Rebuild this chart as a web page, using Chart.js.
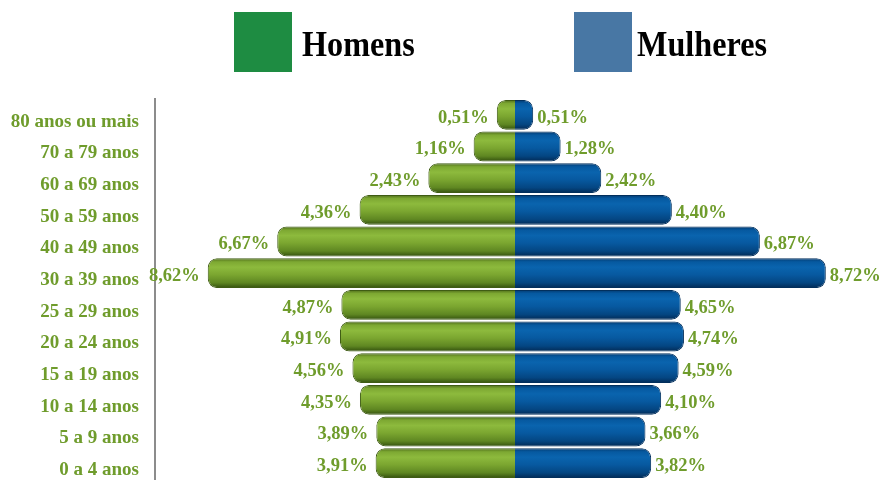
<!DOCTYPE html>
<html lang="pt">
<head>
<meta charset="UTF-8">
<title>Pirâmide etária</title>
<style>
    html, body { margin: 0; padding: 0; background: #fff; }
    #wrap { position: relative; width: 880px; height: 482px; }
    #chart { position: absolute; left: 0; top: 0; }
    .key { position: absolute; top: 12px; width: 58px; height: 60px; }
    .keyText { position: absolute; top: 25px; font: bold 35px "Liberation Serif", "Times New Roman", serif; color: #000;
               transform: scaleX(0.92); transform-origin: left center; white-space: nowrap; }
</style>
</head>
<body>
<div id="wrap">
    <canvas id="chart" width="880" height="482"></canvas>
    <div class="key" style="left:234px;background:#1e8c42;"></div>
    <div class="keyText" style="left:302px;">Homens</div>
    <div class="key" style="left:574px;background:#4877a4;"></div>
    <div class="keyText" style="left:637px;">Mulheres</div>
</div>

<script src="https://cdn.jsdelivr.net/npm/chart.js"></script>
<script>
    const faixas = ['80 anos ou mais', '70 a 79 anos', '60 a 69 anos', '50 a 59 anos', '40 a 49 anos', '30 a 39 anos',
                    '25 a 29 anos', '20 a 24 anos', '15 a 19 anos', '10 a 14 anos', '5 a 9 anos', '0 a 4 anos'];
    const homens   = [0.51, 1.16, 2.43, 4.36, 6.67, 8.62, 4.87, 4.91, 4.56, 4.35, 3.89, 3.91];
    const mulheres = [0.51, 1.28, 2.42, 4.40, 6.87, 8.72, 4.65, 4.74, 4.59, 4.10, 3.66, 3.82];

    const labelGreen = '#6f9c2c';
    const serif = '"Liberation Serif", "Times New Roman", serif';
    const BAR_PCT = 0.94;

    // vertical gradient per bar, so the bars look like cylinders
    function cylinder(stops, solid) {
        return function(ctx) {
            const chart = ctx.chart;
            const y = chart.scales.y;
            if (!chart.chartArea || !y) return solid;
            const c = y.getPixelForValue(ctx.dataIndex);
            const h = (y.height / faixas.length) * BAR_PCT;
            const g = chart.ctx.createLinearGradient(0, c - h / 2, 0, c + h / 2);
            stops.forEach(s => g.addColorStop(s[0], s[1]));
            return g;
        };
    }

    const greenStops = [[0, '#4d6b1a'], [0.12, '#7da832'], [0.3, '#8dba3d'], [0.55, '#7ba630'], [0.82, '#5f8722'], [1, '#33500e']];
    const blueStops  = [[0, '#033a70'], [0.12, '#0659a0'], [0.3, '#0a64ae'], [0.55, '#0759a0'], [0.82, '#044682'], [1, '#022a55']];

    function fmt(v) {
        return Math.abs(v).toFixed(2).replace('.', ',') + '%';
    }

    const valueLabels = {
        id: 'valueLabels',
        afterDatasetsDraw(chart) {
            const ctx = chart.ctx;
            ctx.save();
            ctx.font = 'bold 18.5px ' + serif;
            ctx.fillStyle = labelGreen;
            ctx.textBaseline = 'middle';
            chart.data.datasets.forEach((ds, di) => {
                const meta = chart.getDatasetMeta(di);
                meta.data.forEach((bar, i) => {
                    const v = ds.data[i];
                    if (v < 0) {
                        ctx.textAlign = 'right';
                        ctx.fillText(fmt(v), bar.x - 8, bar.y + 3);
                    } else {
                        ctx.textAlign = 'left';
                        ctx.fillText(fmt(v), bar.x + 4, bar.y + 3);
                    }
                });
            });
            ctx.restore();
        }
    };

    new Chart(document.getElementById('chart'), {
        type: 'bar',
        data: {
            labels: faixas,
            datasets: [{
                label: 'Homens',
                data: homens.map(v => -v),
                backgroundColor: cylinder(greenStops, '#7ba630'),
                borderColor: '#3f5c14',
                borderWidth: 1,
                borderRadius: 9,
                borderSkipped: 'start'
            }, {
                label: 'Mulheres',
                data: mulheres,
                backgroundColor: cylinder(blueStops, '#0759a0'),
                borderColor: '#022f5c',
                borderWidth: 1,
                borderRadius: 9,
                borderSkipped: 'start'
            }]
        },
        options: {
            indexAxis: 'y',
            responsive: false,
            animation: false,
            datasets: { bar: { barPercentage: BAR_PCT, categoryPercentage: 1 } },
            layout: { padding: { top: 99, bottom: 3, right: 5, left: 0 } },
            plugins: {
                legend: { display: false },
                tooltip: { enabled: false }
            },
            scales: {
                x: {
                    stacked: true,
                    display: false,
                    min: -10.1,
                    max: 10.1
                },
                y: {
                    stacked: true,
                    // fixed width, and no extra room for the shifted labels
                    afterFit: s => { s.width = 155; s.paddingTop = 0; s.paddingBottom = 0; },
                    grid: { display: false, drawTicks: false },
                    border: { display: true, color: '#8c8c8c', width: 2 },
                    ticks: {
                        color: labelGreen,
                        padding: 16,
                        labelOffset: 7,
                        font: { family: serif, size: 19, weight: 'bold' }
                    }
                }
            }
        },
        plugins: [valueLabels]
    });
</script>
</body>
</html>
